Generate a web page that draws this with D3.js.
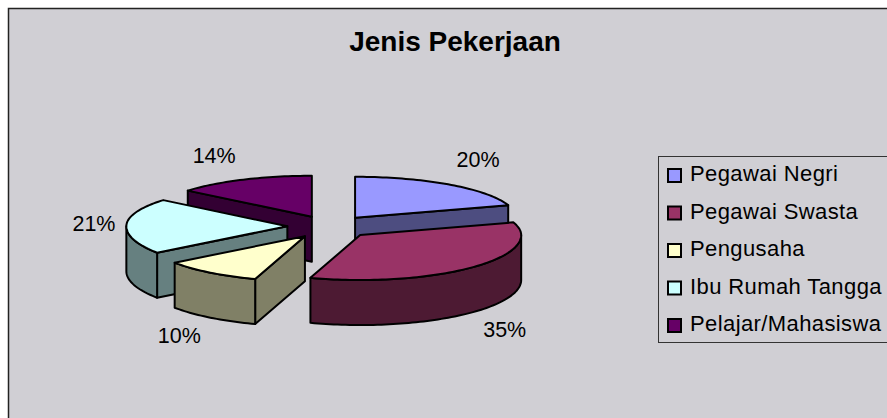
<!DOCTYPE html>
<html>
<head>
<meta charset="utf-8">
<script src="https://cdn.jsdelivr.net/npm/d3@7"></script>
<style>
    html, body { margin: 0; padding: 0; background: #fff; overflow: hidden; }
    svg { display: block; }
    text { font-family: "Liberation Sans", Arial, sans-serif; fill: #000; }
</style>
</head>
<body>
<svg></svg>
<script>
const categories = ["Pegawai Negri", "Pegawai Swasta", "Pengusaha", "Ibu Rumah Tangga", "Pelajar/Mahasiswa"];
const values = [20, 35, 10, 21, 14];
const percentLabels = ["20%", "35%", "10%", "21%", "14%"];
const topColors = ["#9999ff", "#993366", "#ffffcc", "#ccffff", "#660066"];
const sideColors = ["#4d4d80", "#4d1a33", "#808066", "#668080", "#330033"];
// label centres, in pie radii from the pie centre
const labelAngles = [29.3, 154.6, 201.1, 273, 337.5];
const labelRadius = [1.88, 2.53, 2.6, 1.468, 1.88];

const width = 887;
const height = 418;
const centerX = 330;
const centerY = 226.6;
const radiusX = 161;
const radiusFront = 45;
const radiusBack = 41;
const depth = 45;
const explode = 0.265;

let svg = d3.select("svg").attr("width", width).attr("height", height);

// chart area, runs off the right and bottom of the window
svg.append("rect").attr("x", 8).attr("y", 8).attr("width", width).attr("height", height)
    .attr("fill", "#d0cfd4");
svg.append("path").attr("d", `M8.5,${height} V8.5 H${width}`)
    .attr("fill", "none").attr("stroke", "#222").attr("stroke-width", 1.5);

svg.append("text").attr("x", 455).attr("y", 51).attr("text-anchor", "middle")
    .style("font-size", "28px").style("font-weight", "bold")
    .text("Jenis Pekerjaan");

// unit circle to screen, the back half of the pie is a bit flatter
let scaleX = d3.scaleLinear().domain([-1, 1]).range([centerX - radiusX, centerX + radiusX]);
let scaleY = d3.scaleLinear().domain([-1, 0, 1]).range([centerY + radiusFront, centerY, centerY - radiusBack]);

let pie = d3.pie().sort(null).startAngle(0).endAngle(2 * Math.PI);
let arcs = pie(values);
let line = d3.line();

const unit = (angle, r) => [scaleX(r * Math.sin(angle)), scaleY(r * Math.cos(angle))];

// rim points of a slice between two angles, moved by the explode offset
function rim(d, a0, a1) {
    let mid = (d.startAngle + d.endAngle) / 2;
    let off = unit(mid, explode);
    let dx = off[0] - centerX, dy = off[1] - centerY;
    let n = Math.max(2, Math.ceil((a1 - a0) * 40));
    return d3.range(n + 1).map(i => {
        let p = unit(a0 + (a1 - a0) * i / n, 1);
        return [p[0] + dx, p[1] + dy];
    });
}

function apex(d) {
    return unit((d.startAngle + d.endAngle) / 2, explode);
}

const down = pts => pts.map(p => [p[0], p[1] + depth]);
const wall = pts => line(pts.concat(down(pts).reverse())) + "Z";

// back slices first
const order = [4, 0, 3, 1, 2];

let groups = svg.selectAll(".slice")
    .data(order.map(i => ({ arc: arcs[i], i: i })))
    .enter()
    .append("g")
    .attr("class", "slice")
    .attr("stroke", "#000")
    .attr("stroke-width", 2)
    .attr("stroke-linejoin", "round");

groups.each(function (s) {
    let g = d3.select(this);
    let d = s.arc;
    let c = apex(d);
    let side = sideColors[s.i];
    // flat cut faces which turn towards the viewer
    if (Math.sin(d.startAngle) < 0) {
        g.append("path").attr("d", wall([c, rim(d, d.startAngle, d.startAngle + 1e-6)[0]])).attr("fill", side);
    }
    if (Math.sin(d.endAngle) > 0.001) {
        g.append("path").attr("d", wall([c, rim(d, d.endAngle, d.endAngle + 1e-6)[0]])).attr("fill", side);
    }
    // outer wall, only the front half of the ellipse
    let a0 = Math.max(d.startAngle, Math.PI / 2);
    let a1 = Math.min(d.endAngle, 3 * Math.PI / 2);
    if (a1 > a0) {
        g.append("path").attr("d", wall(rim(d, a0, a1))).attr("fill", side);
    }
    g.append("path")
        .attr("d", line([c].concat(rim(d, d.startAngle, d.endAngle))) + "Z")
        .attr("fill", topColors[s.i]);
});

svg.selectAll(".pct")
    .data(percentLabels)
    .enter()
    .append("text")
    .attr("class", "pct")
    .attr("text-anchor", "middle")
    .attr("x", (d, i) => scaleX(labelRadius[i] * Math.sin(labelAngles[i] * Math.PI / 180)))
    .attr("y", (d, i) => scaleY(labelRadius[i] * Math.cos(labelAngles[i] * Math.PI / 180)))
    .attr("dy", "0.36em")
    .style("font-size", "21.5px")
    .text(d => d);

// legend
let legendY = d3.scalePoint().domain(categories).range([175, 325]);

svg.append("rect").attr("x", 658.5).attr("y", 156.5).attr("width", 300).attr("height", 186)
    .attr("fill", "none").attr("stroke", "#333").attr("stroke-width", 1);

let items = svg.selectAll(".legend-item")
    .data(categories)
    .enter()
    .append("g")
    .attr("class", "legend-item")
    .attr("transform", d => `translate(668, ${legendY(d)})`);

items.append("rect")
    .attr("x", 0).attr("y", -6).attr("width", 13).attr("height", 13)
    .attr("fill", (d, i) => topColors[i])
    .attr("stroke", "#000").attr("stroke-width", 2);

items.append("text")
    .attr("x", 22).attr("dy", "0.28em")
    .style("font-size", "22px")
    .style("letter-spacing", "0.4px")
    .text(d => d);
</script>
</body>
</html>
